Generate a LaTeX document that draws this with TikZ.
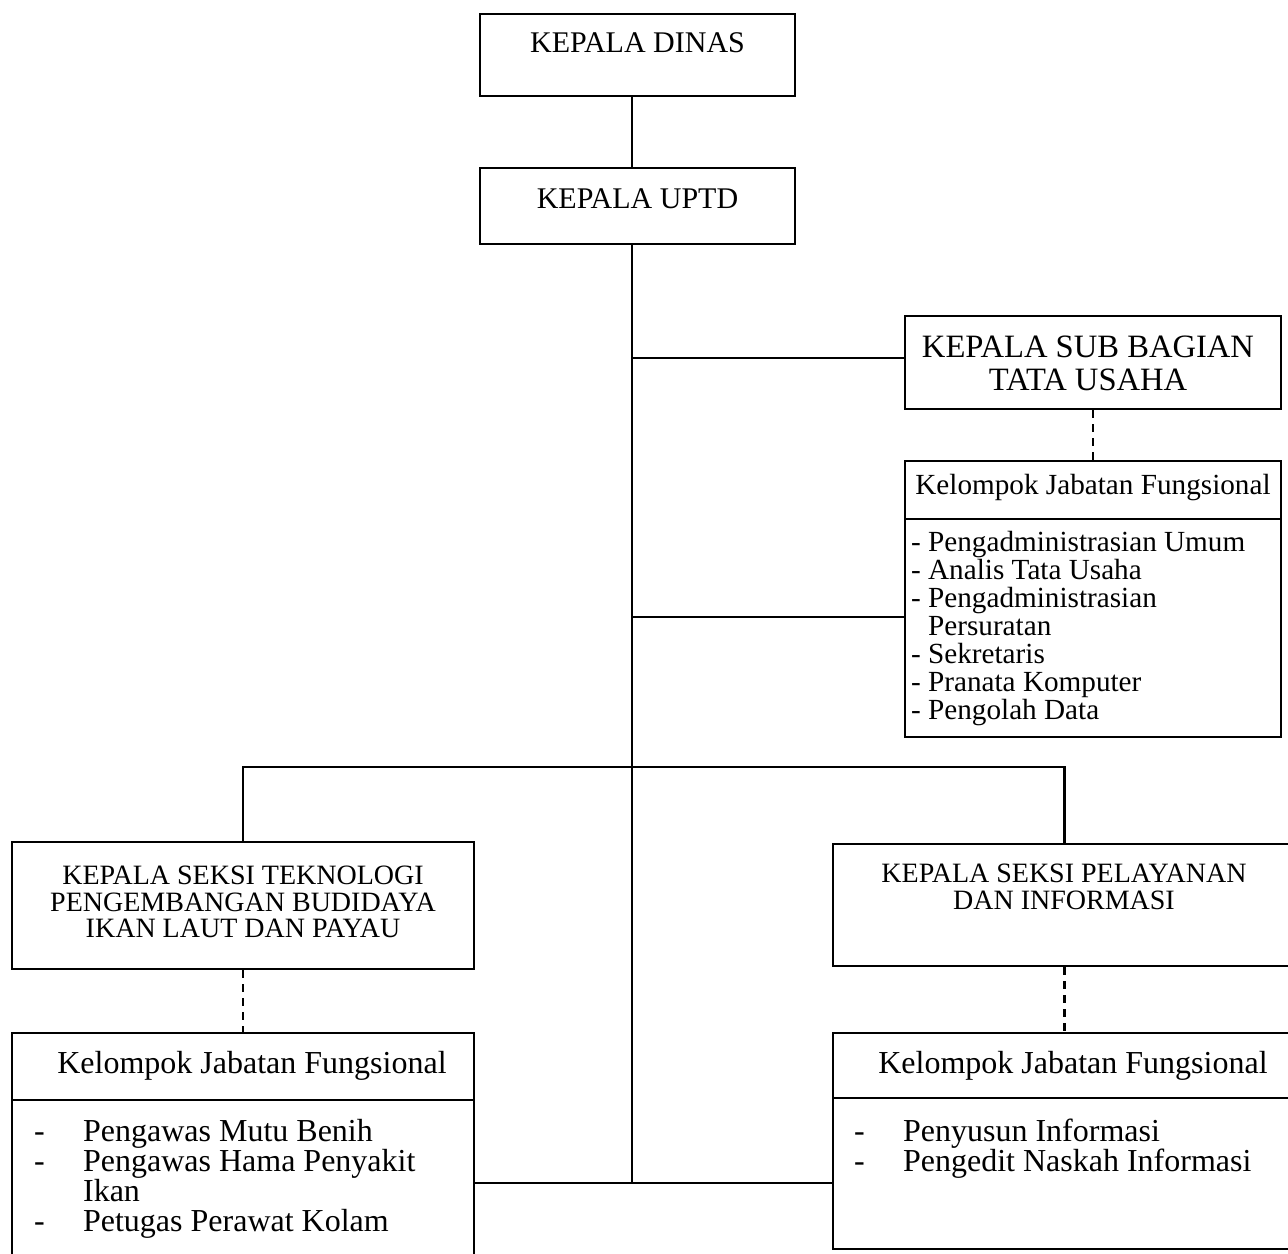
\documentclass[tikz,border=0pt]{standalone}
\usepackage{fontspec}
\setmainfont{Liberation Serif}
\usetikzlibrary{positioning}
\usetikzlibrary{calc}

\newcommand{\fs}[2]{\fontsize{#1}{#2}\selectfont}
\newcommand{\dsh}{\makebox[24.5pt][l]{-}}

\begin{document}
\begin{tikzpicture}[x=0.5pt, y=-0.5pt, line width=1.1pt,
    unitbox/.style={draw, rectangle, inner sep=0pt},
    txt/.style={inner sep=0pt, anchor=north, align=center},
    lst/.style={inner sep=0pt, anchor=north west, align=left},
    dotline/.style={dash pattern=on 4pt off 3pt}]
  \useasboundingbox (0,0) rectangle (1288,1253);

 %top
  \node[unitbox, minimum width=157.5pt, minimum height=41pt] (dinas) at (637.5,55) {};
  \node[txt, font=\fs{15}{15}] (dinas-t) at (637.5,32) {KEPALA DINAS};
  \node[unitbox, minimum width=157.5pt, minimum height=38pt] (uptd) at (637.5,206) {};
  \node[txt, font=\fs{15}{15}] (uptd-t) at (637.5,188) {KEPALA UPTD};
  \coordinate (trunkend) at (632,1183);
  \coordinate (branch) at (632,767);

 %sub bagian
  \node[unitbox, minimum width=188pt, minimum height=46.5pt] (subbag) at (1093,362.5) {};
  \node[txt, font=\fs{16.3}{16.5}] (subbag-t) at (1088,335) {KEPALA SUB BAGIAN\\TATA USAHA};
  \node[unitbox, minimum width=188pt, minimum height=29pt] (subhead) at (1093,490) {};
  \node[txt, font=\fs{14.6}{14}] (subhead-t) at (1093,473) {Kelompok Jabatan Fungsional};
  \node[unitbox, minimum width=188pt, minimum height=109pt] (sublist) at (1093,628) {};
  \node[lst, font=\fs{14.6}{14}] (sublist-t) at (910,530) {-~Pengadministrasian Umum\\
      -~Analis Tata Usaha\\-~Pengadministrasian\\\phantom{-~}Persuratan\\
      -~Sekretaris\\-~Pranata Komputer\\-~Pengolah Data};

 %seksi kiri
  \node[unitbox, minimum width=231pt, minimum height=63.5pt] (seksiL) at (243,905.5) {};
  \node[txt, font=\fs{14}{13.3}] (seksiL-t) at (243,865) {KEPALA SEKSI TEKNOLOGI\\PENGEMBANGAN BUDIDAYA\\IKAN LAUT DAN PAYAU};
  \node[unitbox, minimum width=231pt, minimum height=33.5pt] (kelLhead) at (243,1066.5) {};
  \node[txt, font=\fs{16}{15}] (kelLhead-t) at (252,1050) {Kelompok Jabatan Fungsional};
  \node[unitbox, minimum width=231pt, minimum height=85pt] (kelLlist) at (243,1185) {};
  \node[lst, font=\fs{16}{15}] (kelLlist-t) at (33,1118) {\dsh Pengawas Mutu Benih\\
      \dsh Pengawas Hama Penyakit\\\hspace*{24.5pt}Ikan\\\dsh Petugas Perawat Kolam};

 %seksi kanan
  \node[unitbox, minimum width=231.5pt, minimum height=61pt] (seksiR) at (1064.5,905) {};
  \node[txt, font=\fs{14}{13.5}] (seksiR-t) at (1064,863) {KEPALA SEKSI PELAYANAN\\DAN INFORMASI};
  \node[unitbox, minimum width=231.5pt, minimum height=32.5pt] (kelRhead) at (1064.5,1065.5) {};
  \node[txt, font=\fs{16}{15}] (kelRhead-t) at (1073,1050) {Kelompok Jabatan Fungsional};
  \node[unitbox, minimum width=231.5pt, minimum height=75.5pt] (kelRlist) at (1064.5,1173.5) {};
  \node[lst, font=\fs{16}{15}] (kelRlist-t) at (853,1118) {\dsh Penyusun Informasi\\
      \dsh Pengedit Naskah Informasi};

 %garis
  \draw (dinas.south -| trunkend) -- (uptd.north -| trunkend);
  \draw (uptd.south -| trunkend) -- (trunkend);
  \draw ([yshift=2.25pt]subbag.west -| trunkend) -- ([yshift=2.25pt]subbag.west);
  \draw ([yshift=5.5pt]sublist.west -| trunkend) -- ([yshift=5.5pt]sublist.west);
  \draw (seksiL.north) |- (branch) -| (seksiR.north);
  \draw (kelLlist.east |- trunkend) -- (kelRlist.west |- trunkend);
  \draw[dotline] (subbag.south) -- (subhead.north);
  \draw[dotline] (seksiL.south) -- (kelLhead.north);
  \draw[dotline] (seksiR.south) -- (kelRhead.north);
\end{tikzpicture}
\end{document}
